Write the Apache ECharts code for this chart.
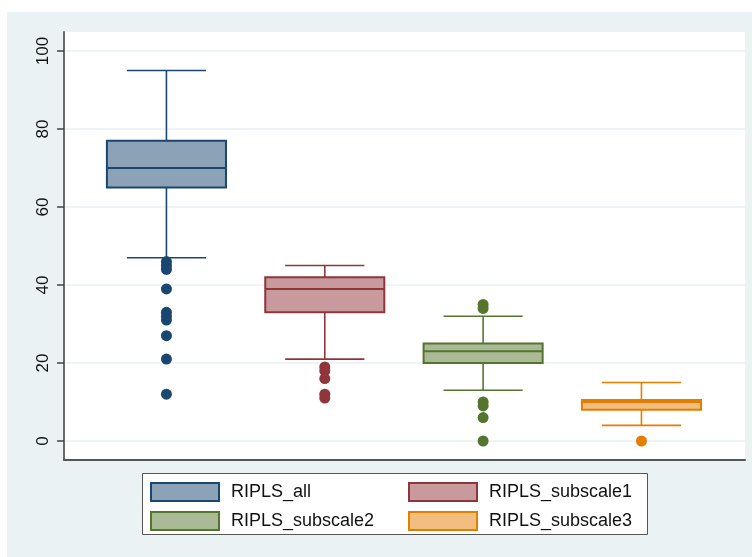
<!DOCTYPE html>
<html>
<head>
<meta charset="utf-8">
<script src="https://cdn.jsdelivr.net/npm/echarts@6/dist/echarts.min.js"></script>
<style>html,body{margin:0;padding:0;background:#fff;}#c{width:752px;height:557px;}</style>
</head>
<body>
<div id="c"></div>
<script>
// ---- data ----
const categories = ['RIPLS_all', 'RIPLS_subscale1', 'RIPLS_subscale2', 'RIPLS_subscale3'];
const whiskerLow = [47, 21, 13, 4];
const q1 = [65, 33, 20, 8];
const median = [70, 39, 23, 10];
const q3 = [77, 42, 25, 10.5];
const whiskerHigh = [95, 45, 32, 15];
const outliersAll = [46, 45, 44, 39, 33, 32, 31, 27, 21, 12];
const outliersSub1 = [19, 18, 16, 12, 11];
const outliersSub2 = [35, 34, 10, 9, 6, 0];
const outliersSub3 = [0];
const yTicks = [0, 20, 40, 60, 80, 100];

// ---- styles ----
const strokeColors = ['#1A476F', '#90353B', '#55752F', '#E37E00'];
const fillColors = ['#8CA3B7', '#C89A9D', '#AABA97', '#F1BE7F'];
const outlierSets = [outliersAll, outliersSub1, outliersSub2, outliersSub3];
const BOX_HALF = 0.376, CAP_HALF = 0.25;
const FONT = '"Liberation Sans", Arial, Helvetica, sans-serif';

function makeRender(fill, stroke) {
  return function (params, api) {
    const x = api.value(0);
    const vMin = api.value(1), vQ1 = api.value(2), vMed = api.value(3), vQ3 = api.value(4), vMax = api.value(5);
    const p = v => api.coord([x, v]);
    const bh = api.size([BOX_HALF, 0])[0];
    const ch = api.size([CAP_HALF, 0])[0];
    const cx = p(vMed)[0];
    const yMin = p(vMin)[1], yQ1 = p(vQ1)[1], yMed = p(vMed)[1], yQ3 = p(vQ3)[1], yMax = p(vMax)[1];
    const ls = { stroke: stroke, lineWidth: 1.6, fill: null };
    return {
      type: 'group',
      children: [
        { type: 'line', shape: { x1: cx, y1: yQ3, x2: cx, y2: yMax }, style: ls },
        { type: 'line', shape: { x1: cx, y1: yQ1, x2: cx, y2: yMin }, style: ls },
        { type: 'line', shape: { x1: cx - ch, y1: yMax, x2: cx + ch, y2: yMax }, style: ls },
        { type: 'line', shape: { x1: cx - ch, y1: yMin, x2: cx + ch, y2: yMin }, style: ls },
        { type: 'rect', shape: { x: cx - bh, y: yQ3, width: 2 * bh, height: yQ1 - yQ3 },
          style: { fill: fill, stroke: stroke, lineWidth: 2 } },
        { type: 'line', shape: { x1: cx - bh, y1: yMed, x2: cx + bh, y2: yMed },
          style: { stroke: stroke, lineWidth: 2 } }
      ]
    };
  };
}

const series = [];
categories.forEach((name, i) => {
  series.push({
    name: name,
    type: 'custom',
    xAxisIndex: 1, yAxisIndex: 1,
    itemStyle: { color: fillColors[i], borderColor: strokeColors[i] },
    renderItem: makeRender(fillColors[i], strokeColors[i]),
    encode: { x: 0, y: [1, 2, 3, 4, 5] },
    data: [[i, whiskerLow[i], q1[i], median[i], q3[i], whiskerHigh[i]]],
    clip: false,
    z: 3
  });
  series.push({
    name: name,
    type: 'scatter',
    xAxisIndex: 1, yAxisIndex: 1,
    symbol: 'circle',
    symbolSize: 11,
    itemStyle: { color: strokeColors[i], opacity: 1 },
    data: outlierSets[i].map(v => [i, v]),
    clip: false,
    z: 4
  });
});

function legendItem(i) {
  return { name: categories[i], icon: 'rect',
    itemStyle: { color: fillColors[i], borderColor: strokeColors[i], borderWidth: 2 } };
}
const legendBase = {
  orient: 'vertical', top: 482, itemWidth: 68, itemHeight: 18, itemGap: 9, padding: 0,
  selectedMode: false,
  textStyle: { fontSize: 18, fontFamily: FONT, color: '#111', padding: [0, 0, 0, 7], lineHeight: 18 }
};

const chart = echarts.init(document.getElementById('c'), null, { renderer: 'canvas' });
chart.setOption({
  animation: false,
  backgroundColor: '#ffffff',
  graphic: [
    { type: 'rect', z: -10, shape: { x: 7, y: 12, width: 745, height: 545 }, style: { fill: '#EAF2F3' }, silent: true },
    { type: 'rect', z: 1, shape: { x: 142.5, y: 473.5, width: 505, height: 61 }, style: { fill: '#ffffff', stroke: '#555', lineWidth: 1 }, silent: true }
  ],
  grid: [
    { left: 64, right: 7, top: 32, bottom: 97, show: true, backgroundColor: '#ffffff', borderWidth: 0 },
    { left: 64, right: 7, top: 51, bottom: 116, show: false }
  ],
  xAxis: [
    { type: 'value', gridIndex: 0, min: 0, max: 1, position: 'bottom',
      axisLine: { show: true, onZero: false, lineStyle: { color: '#555', width: 2 } },
      axisTick: { show: false }, axisLabel: { show: false }, splitLine: { show: false } },
    { type: 'value', gridIndex: 1, min: -0.647, max: 3.654, show: false,
      axisLine: { onZero: false }, splitLine: { show: false } }
  ],
  yAxis: [
    { type: 'value', gridIndex: 0, min: 0, max: 1, position: 'left',
      axisLine: { show: true, onZero: false, lineStyle: { color: '#6a6a6a', width: 2 } },
      axisTick: { show: false }, axisLabel: { show: false }, splitLine: { show: false } },
    { type: 'value', gridIndex: 1, min: yTicks[0], max: yTicks[yTicks.length - 1], interval: 20,
      position: 'left',
      axisLine: { show: false, onZero: false },
      axisTick: { show: true, inside: false, length: 7, lineStyle: { color: '#444', width: 1.5 } },
      axisLabel: { show: true, rotate: 90, margin: 12, fontSize: 17, fontFamily: FONT, color: '#111' },
      splitLine: { show: true, lineStyle: { color: '#EAF2F3', width: 1.5 } } }
  ],
  legend: [
    Object.assign({}, legendBase, { left: 150, data: [legendItem(0), legendItem(2)] }),
    Object.assign({}, legendBase, { left: 408, data: [legendItem(1), legendItem(3)] })
  ],
  series: series
});
</script>
</body>
</html>
